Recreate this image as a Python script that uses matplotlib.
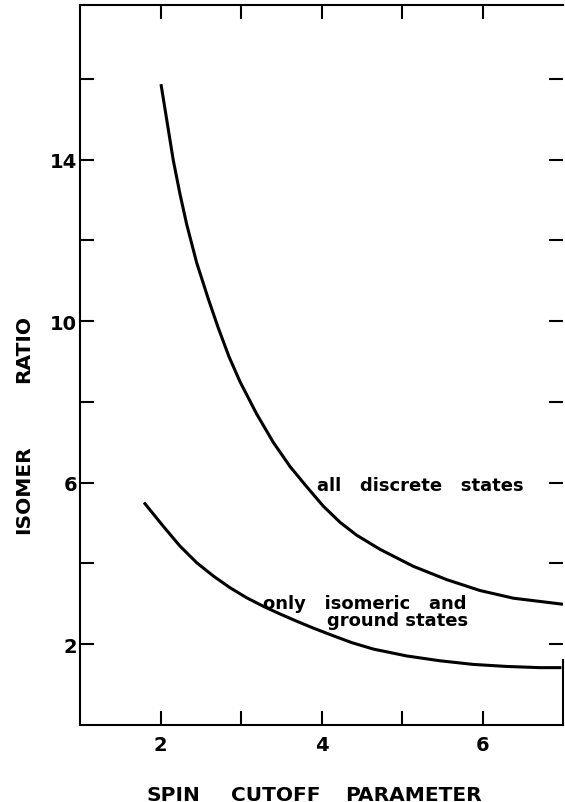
import numpy as np
import matplotlib
matplotlib.use("Agg")
import matplotlib.pyplot as plt
from matplotlib.ticker import FixedLocator

# curve values
x_all = [2.006, 2.159, 2.242, 2.325, 2.449, 2.594, 2.718, 2.851, 2.988, 3.195, 3.401, 3.609,
         3.816, 4.022, 4.230, 4.437, 4.727, 5.140, 5.555, 5.969, 6.383, 7.0]
y_all = [15.87, 13.98, 13.15, 12.40, 11.45, 10.55, 9.83, 9.12, 8.50, 7.70, 7.00, 6.40,
         5.90, 5.42, 5.02, 4.70, 4.35, 3.93, 3.60, 3.33, 3.14, 2.99]

x_iso = [1.795, 2.035, 2.242, 2.449, 2.656, 2.863, 3.071, 3.277, 3.484, 3.692, 3.898, 4.106,
         4.375, 4.644, 5.058, 5.472, 5.886, 6.30, 6.714, 6.98]
y_iso = [5.51, 4.92, 4.43, 4.02, 3.69, 3.40, 3.15, 2.94, 2.75, 2.57, 2.40, 2.24,
         2.04, 1.88, 1.71, 1.59, 1.50, 1.45, 1.42, 1.42]

x_major = [2, 4, 6]
x_minor = [3, 5]
y_major = [2, 6, 10, 14]
y_minor = [4, 8, 12, 16]

plt.rcParams['font.family'] = ['DejaVu Sans']
plt.rcParams['font.weight'] = 'bold'

fig = plt.figure(figsize=(5.65, 8.03), dpi=100)
ax = fig.add_axes([0.1416, 0.0959, 0.8549, 0.8966])

ax.plot(x_all, y_all, color='black', lw=2.2, solid_capstyle='butt', solid_joinstyle='round')
ax.plot(x_iso, y_iso, color='black', lw=2.2, solid_capstyle='butt', solid_joinstyle='round')

ax.set_xlim(1, 7)
ax.set_ylim(0, 17.83)

ax.xaxis.set_major_locator(FixedLocator(x_major))
ax.xaxis.set_minor_locator(FixedLocator(x_minor))
ax.yaxis.set_major_locator(FixedLocator(y_major))
ax.yaxis.set_minor_locator(FixedLocator(y_minor))

for which in ('major', 'minor'):
    ax.tick_params(axis='both', which=which, direction='in', length=10, width=1.5,
                   top=True, right=True, labelsize=14)
ax.tick_params(axis='x', which='major', pad=7)
ax.tick_params(axis='y', which='major', pad=2)

for s in ax.spines.values():
    s.set_linewidth(1.5)
ax.spines['right'].set_bounds(0, 1.6)

ax.text(3.944, 5.83, 'all   discrete   states', fontsize=13, va='baseline', ha='left')
ax.text(3.277, 2.905, 'only   isomeric   and', fontsize=13, va='baseline', ha='left')
ax.text(4.072, 2.477, 'ground states', fontsize=13, va='baseline', ha='left')

# axis titles, word by word as spaced in the original
fig.text(173.5 / 565, 0.003, 'SPIN', fontsize=14.5, ha='center', va='baseline')
fig.text(276 / 565, 0.003, 'CUTOFF', fontsize=14.5, ha='center', va='baseline')
fig.text(413 / 565, 0.003, 'PARAMETER', fontsize=14.5, ha='center', va='baseline')
fig.text(0.042, 1 - 349 / 803, 'RATIO', fontsize=14.5, ha='center', va='center', rotation=90)
fig.text(0.042, 1 - 490 / 803, 'ISOMER', fontsize=14.5, ha='center', va='center', rotation=90)

fig.savefig('out.png', dpi=100)
